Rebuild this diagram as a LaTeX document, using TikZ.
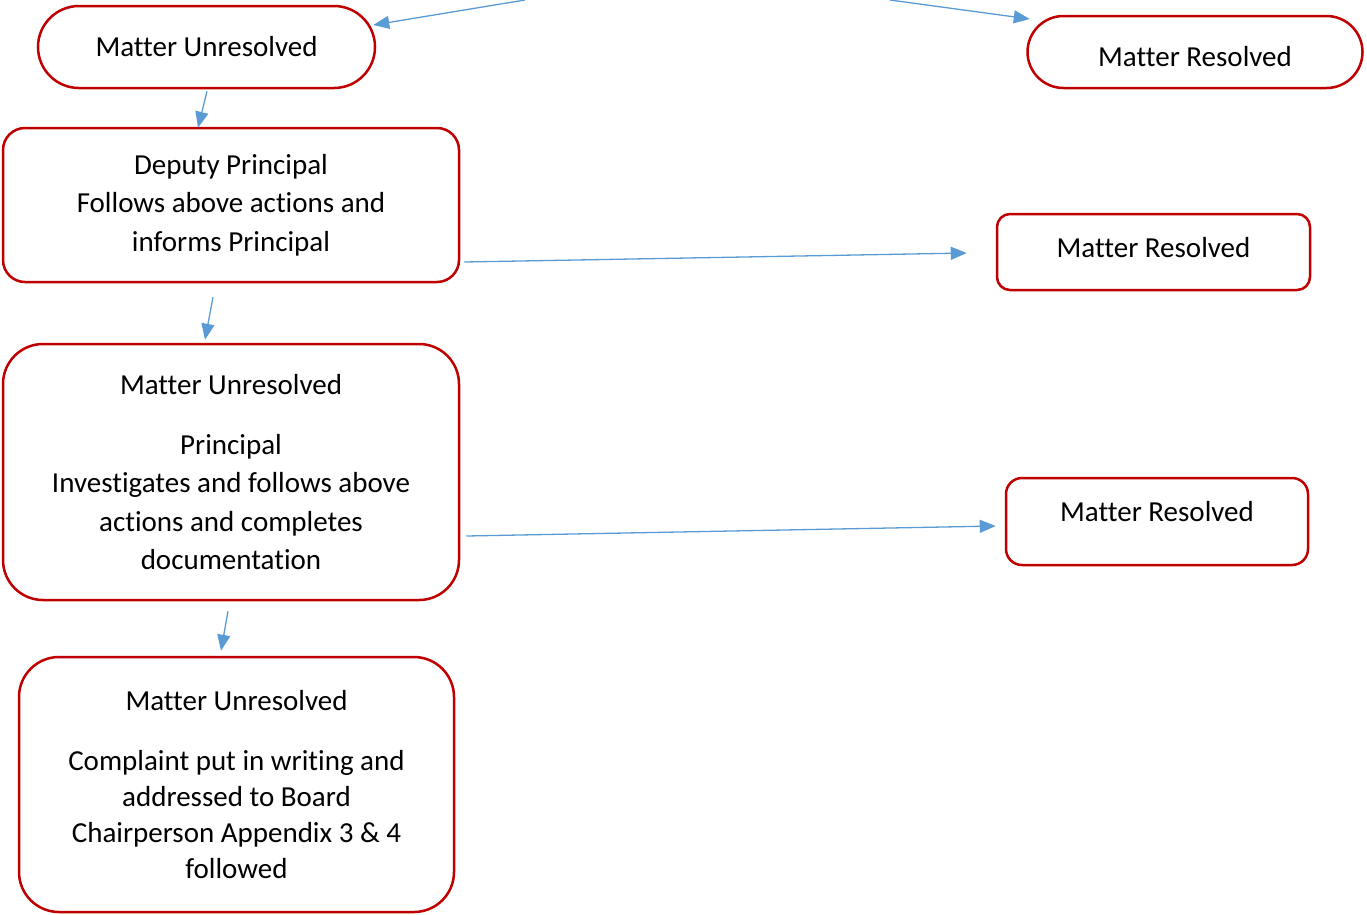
\documentclass[tikz,border=0pt]{standalone}
\usepackage{fontspec}
\setmainfont{Carlito}[Ligatures={NoCommon, NoRare}]
\usepackage{tikz}
\usetikzlibrary{shapes.misc, arrows.meta, calc}

\definecolor{boxred}{RGB}{192,0,0}
\definecolor{flowblue}{RGB}{91,155,213}

\begin{document}
\begin{tikzpicture}[x=1pt, y=-1pt, line width=2.5pt,
    every node/.style={font=\fontsize{29}{38.5}\selectfont, align=center, inner sep=0pt},
    pill/.style={draw=boxred, rounded rectangle},
    box/.style={draw=boxred, rectangle},
    flow/.style={draw=flowblue, line width=1.3pt, -{Triangle[length=16pt, width=13pt]}}]

% fix the page size
\useasboundingbox (0, 0) rectangle (1367, 914);

% draw top row
\node[pill, minimum width=337pt, minimum height=82pt] (unres) at (206.5, 47) {Matter Unresolved};
\node[pill, minimum width=335pt, minimum height=72pt, text height=29pt] (resA) at (1195, 52) {Matter Resolved};

% draw deputy principal step
\node[box, rounded corners=22pt, minimum width=456pt, minimum height=154pt] (deputy) at (231, 205)
    {Deputy Principal\\Follows above actions and\\informs Principal};
\node[box, rounded corners=13pt, minimum width=313pt, minimum height=76pt, text depth=9pt] (resB) at (1153.5, 252)
    {Matter Resolved};

% draw principal step
\node[box, rounded corners=40pt, minimum width=456pt, minimum height=256pt] (princ) at (231, 472)
    {Matter Unresolved\\[21.5pt]Principal\\Investigates and follows above\\actions and completes\\documentation};
\node[box, rounded corners=16pt, minimum width=302pt, minimum height=87pt, text depth=20pt] (resC) at (1157, 521.5)
    {Matter Resolved};

% draw board step
\node[box, rounded corners=40pt, minimum width=435pt, minimum height=255pt, font=\fontsize{29}{36}\selectfont] (board) at (236.5, 784.5)
    {Matter Unresolved\\[24pt]Complaint put in writing and\\addressed to Board\\Chairperson Appendix 3 \& 4\\followed};

% draw arrows
\coordinate (srcL) at (525, 0);
\coordinate (srcR) at (890, 0);
\draw[flow] (srcL) -- ($(unres.east) + (-3, -22)$);
\draw[flow] (srcR) -- ($(resA.west) + (3.5, -33)$);
\draw[flow] ($(unres.south) + (0.5, 2)$) -- ($(deputy.north) + (-33, 1)$);
\draw[flow] ($(deputy.south) + (-18, 14)$) -- ($(princ.north) + (-26, -3)$);
\draw[flow] ($(princ.south) + (-3, 10)$) -- ($(board.north) + (-15.5, -5)$);
\draw[flow] ($(deputy.east) + (4, 57)$) -- ($(resB.west) + (-29, 1)$);
\draw[flow] ($(princ.east) + (6, 64)$) -- ($(resC.west) + (-9, 4.5)$);

\end{tikzpicture}
\end{document}
